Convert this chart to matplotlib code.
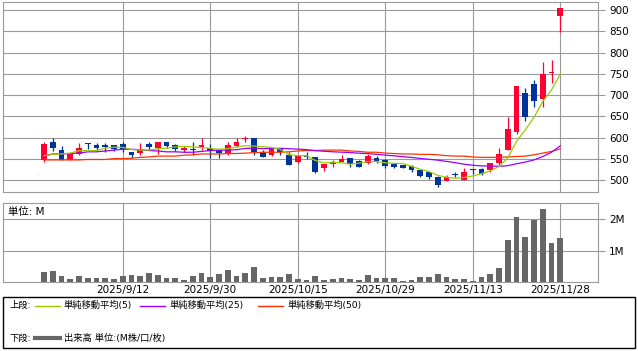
import matplotlib
matplotlib.use('Agg')
import matplotlib.pyplot as plt
from matplotlib.lines import Line2D
from matplotlib.patches import Rectangle

plt.rcParams['font.family'] = ['DejaVu Sans', 'Noto Sans CJK JP']

dates = ['2025/9/1', '2025/9/2', '2025/9/3', '2025/9/4', '2025/9/5', '2025/9/8', '2025/9/9', '2025/9/10',
         '2025/9/11', '2025/9/12', '2025/9/16', '2025/9/17', '2025/9/18', '2025/9/19', '2025/9/22',
         '2025/9/24', '2025/9/25', '2025/9/26', '2025/9/29', '2025/9/30',
         '2025/10/1', '2025/10/2', '2025/10/3', '2025/10/6', '2025/10/7', '2025/10/8', '2025/10/9',
         '2025/10/10', '2025/10/14', '2025/10/15', '2025/10/16', '2025/10/17', '2025/10/20',
         '2025/10/21', '2025/10/22', '2025/10/23', '2025/10/24', '2025/10/27', '2025/10/28',
         '2025/10/29', '2025/10/30', '2025/10/31',
         '2025/11/4', '2025/11/5', '2025/11/6', '2025/11/7', '2025/11/10', '2025/11/11', '2025/11/12',
         '2025/11/13', '2025/11/14', '2025/11/17', '2025/11/18', '2025/11/19', '2025/11/20',
         '2025/11/21', '2025/11/25', '2025/11/26', '2025/11/27', '2025/11/28']

opens = [548, 590, 571, 548, 562, 587, 583, 583, 582, 585,
         566, 565, 585, 576, 590, 582, 572, 573, 576, 576,
         571, 561, 580, 598, 600, 566, 560, 573, 560, 542,
         558, 554, 530, 538, 543, 552, 546, 540, 553, 548,
         538, 536, 534, 524, 519, 508, 499, 516, 501, 526,
         526, 524, 540, 571, 613, 704, 726, 690, 751, 886]
highs = [590, 600, 581, 564, 588, 588, 588, 587, 584, 589,
         567, 587, 590, 590, 590, 586, 581, 591, 600, 585,
         572, 591, 599, 604, 600, 571, 576, 575, 567, 558,
         567, 556, 539, 548, 560, 552, 547, 563, 557, 549,
         539, 537, 535, 525, 520, 510, 512, 519, 528, 527,
         530, 541, 577, 649, 722, 718, 736, 778, 782, 905]
lows = [542, 568, 547, 547, 560, 574, 570, 567, 570, 566,
        552, 560, 571, 563, 575, 570, 567, 560, 571, 553,
        552, 560, 578, 589, 560, 555, 558, 559, 536, 541,
        549, 518, 523, 532, 542, 532, 531, 539, 541, 530,
        530, 529, 520, 509, 503, 484, 498, 507, 500, 514,
        512, 520, 536, 571, 609, 640, 673, 673, 728, 849]
closes = [586, 575, 548, 563, 576, 586, 576, 578, 574, 574,
          559, 571, 578, 590, 581, 573, 577, 572, 583, 570,
          564, 583, 591, 599, 566, 556, 575, 567, 536, 557,
          554, 520, 538, 544, 550, 538, 532, 557, 545, 534,
          532, 530, 524, 510, 507, 488, 508, 512, 519, 525,
          515, 540, 563, 620, 721, 649, 687, 750, 755, 904]

ma5 = [558, 561, 562, 564, 569.6, 569.6, 569.8, 575.8, 578.0, 577.6,
       572.2, 571.2, 571.2, 574.4, 575.8, 578.6, 579.8, 578.6, 577.2, 575.0,
       573.2, 574.4, 578.2, 581.4, 580.6, 579.0, 577.4, 572.6, 560.0, 558.2,
       557.8, 546.8, 541.0, 542.6, 541.2, 538.0, 540.4, 544.2, 544.4, 541.2,
       540.0, 539.6, 533.0, 526.0, 520.6, 511.8, 507.4, 505.0, 506.8, 510.4,
       515.8, 522.2, 532.4, 552.6, 591.8, 618.6, 648.0, 685.4, 712.4, 749.0]
ma25 = [558, 562, 562, 563, 564, 567, 567, 569, 571, 573,
        573, 572, 570, 569, 567, 567, 566, 566, 568, 570,
        571, 571, 572, 575, 575.7, 574.5, 574.5, 575.3, 574.2, 573.4,
        572.2, 569.9, 568.3, 567.1, 566.2, 565.3, 563.8, 562.9, 561.1, 559.2,
        557.6, 555.7, 553.8, 551.5, 549.5, 547.5, 544.5, 541.5, 538.0, 535.5,
        534.0, 533.5, 533.0, 534.5, 539.0, 543.0, 548.0, 556.0, 566.0, 581.0]
ma50 = [548, 548, 548, 548, 548, 549, 549, 549, 551, 551,
        552, 554, 555, 557, 557, 557, 559, 560, 562, 562,
        562, 563, 563, 564, 565, 566, 566, 566, 567, 569,
        570, 570, 571, 571, 571, 569, 568, 566, 566, 564,
        563, 562, 562, 561, 561, 560, 558, 557, 557, 555,
        554, 554, 554, 555, 556, 557, 560, 564, 568, 574]
volume_m = [0.34, 0.37, 0.20, 0.105, 0.20, 0.14, 0.14, 0.14, 0.105, 0.20,
            0.23, 0.20, 0.31, 0.23, 0.13, 0.14, 0.074, 0.20, 0.31, 0.17,
            0.26, 0.39, 0.20, 0.31, 0.49, 0.14, 0.17, 0.17, 0.26, 0.105,
            0.085, 0.20, 0.074, 0.105, 0.14, 0.105, 0.074, 0.23, 0.14, 0.14,
            0.14, 0.042, 0.074, 0.17, 0.17, 0.26, 0.17, 0.105, 0.105, 0.042,
            0.17, 0.26, 0.455, 1.34, 2.08, 1.44, 1.98, 2.33, 1.26, 1.42]

tick_dates = ['2025/9/12', '2025/9/30', '2025/10/15', '2025/10/29', '2025/11/13', '2025/11/28']
price_ticks = [500, 550, 600, 650, 700, 750, 800, 850, 900]
vol_ticks = [1, 2]
vol_tick_labels = ['1M', '2M']

UP = '#FF0033'
DOWN = '#003399'
C_MA5 = '#99CC00'
C_MA25 = '#9900FF'
C_MA50 = '#FF3300'
GRID = '#999999'

W, H = 638, 351
fig = plt.figure(figsize=(W / 100, H / 100), dpi=100)


def fx(px):
    return px / W


def fy(py):
    return 1 - py / H


xs = list(range(len(dates)))
tick_pos = [dates.index(d) for d in tick_dates]
xlim = (-4.69, 63.31)

# ---- price panel ----
ax = fig.add_axes([fx(3), fy(192.3), fx(598) - fx(3), fy(2.3) - fy(192.3)])
for x, o, h, l, c in zip(xs, opens, highs, lows, closes):
    col = UP if c >= o else DOWN
    ax.vlines(x, l, h, color=col, lw=0.9, zorder=3)
    body = max(abs(c - o), 1.3)
    ax.bar(x, body, bottom=min(o, c), width=0.65, color=col, lw=0, zorder=3)
ax.plot(xs, ma50, color=C_MA50, lw=0.9, zorder=4)
ax.plot(xs, ma25, color=C_MA25, lw=0.9, zorder=4)
ax.plot(xs, ma5, color=C_MA5, lw=0.9, zorder=5)
ax.set_xlim(*xlim)
ax.set_ylim(472, 918)
ax.set_yticks(price_ticks)
ax.yaxis.tick_right()
ax.tick_params(axis='y', length=5, color=GRID, width=0.8, labelsize=7.5, pad=3)
ax.set_xticks(tick_pos)
ax.tick_params(axis='x', length=0, labelbottom=False)
ax.grid(True, color=GRID, lw=0.8)
ax.set_axisbelow(True)
for s in ax.spines.values():
    s.set_color(GRID)
    s.set_linewidth(0.8)

# ---- volume panel ----
axv = fig.add_axes([fx(3), fy(282.3), fx(598) - fx(3), fy(203.3) - fy(282.3)])
axv.bar(xs, volume_m, width=0.65, color='#666666', lw=0, zorder=3)
axv.set_xlim(*xlim)
axv.set_ylim(0, 2.51)
axv.set_yticks(vol_ticks)
axv.set_yticklabels(vol_tick_labels)
axv.yaxis.tick_right()
axv.tick_params(axis='y', length=5, color=GRID, width=0.8, labelsize=7.5, pad=3)
axv.set_xticks(tick_pos)
axv.set_xticklabels(tick_dates)
axv.tick_params(axis='x', length=0, labelsize=7.5, pad=2)
axv.grid(True, color=GRID, lw=0.8)
axv.set_axisbelow(True)
for s in axv.spines.values():
    s.set_color(GRID)
    s.set_linewidth(0.8)
fig.text(fx(7.5), fy(211.7), '単位: M', fontsize=7.5, ha='left', va='center')

# ---- legend box ----
fig.patches.append(Rectangle((fx(2.7), fy(348.3)), fx(635) - fx(2.7), fy(297.3) - fy(348.3),
                             transform=fig.transFigure, fill=False, edgecolor='black', lw=1.0))
row1, row2 = 305.7, 338.3
fs_leg = 6.7
fig.text(fx(9.5), fy(row1), '上段:', fontsize=fs_leg, ha='left', va='center')
for (x0, x1, tx), col, lab in zip([(35, 60, 64), (140, 165, 169), (258, 283, 287)],
                                  [C_MA5, C_MA25, C_MA50],
                                  ['単純移動平均(5)', '単純移動平均(25)', '単純移動平均(50)']):
    fig.lines.append(Line2D([fx(x0), fx(x1)], [fy(row1), fy(row1)], color=col, lw=1.0,
                            transform=fig.transFigure))
    fig.text(fx(tx), fy(row1), lab, fontsize=fs_leg, ha='left', va='center')
fig.text(fx(9.5), fy(row2), '下段:', fontsize=fs_leg, ha='left', va='center')
fig.lines.append(Line2D([fx(35), fx(60)], [fy(row2), fy(row2)], color='#666666', lw=3.0,
                        transform=fig.transFigure))
fig.text(fx(64), fy(row2), '出来高 単位:(M株/口/枚)', fontsize=fs_leg, ha='left', va='center')

fig.savefig('out.png', dpi=100)
